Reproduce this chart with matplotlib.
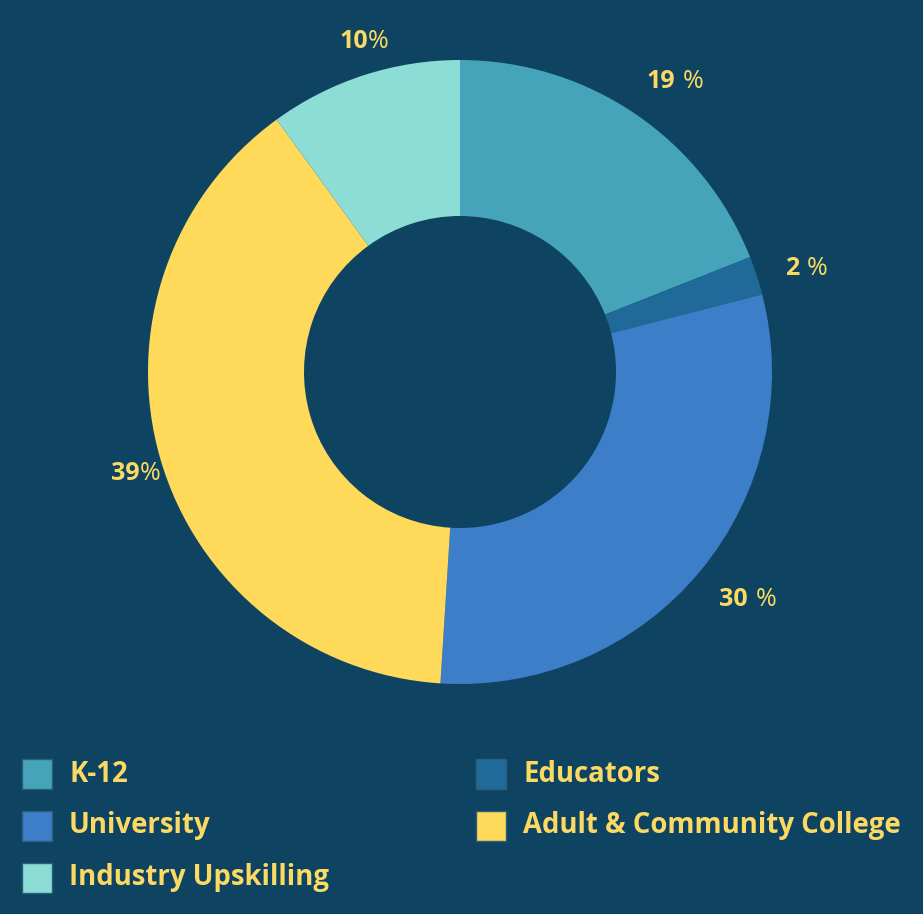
import numpy as np
import matplotlib.pyplot as plt
from matplotlib.patches import Rectangle

categories = ["K-12", "Educators", "University", "Adult & Community College", "Industry Upskilling"]
shares = [19, 2, 30, 39, 10]
label_text = ["19 %", "2 %", "30 %", "39%", "10%"]
colors = ["#45a4ba", "#1f6a98", "#3d7ec8", "#ffd95a", "#8cddd5"]

BG = "#0e4461"
TXT = "#fcd963"
FONT = "Open Sans"

W, H = 923, 914
cx, cy, R = 460, 372, 312   # pixels from top-left

fig = plt.figure(figsize=(W / 100, H / 100), dpi=100, facecolor=BG)
ax = fig.add_axes([0, 0, 1, 1])
ax.set_facecolor(BG)

wedges, _ = ax.pie(shares, colors=colors, startangle=90, counterclock=False,
                   radius=1.0, wedgeprops=dict(width=0.5, linewidth=0))

ax.set_xlim(-cx / R, (W - cx) / R)
ax.set_ylim(-(H - cy) / R, cy / R)
ax.set_aspect("auto")
ax.axis("off")

# percentage labels: bold number, light percent sign
label_r = [1.175, 1.15, 1.18, 1.075, 1.11]
label_nudge = [-2.5, -0.7, 2.0, 0.8, -2.6]   # degrees
for w, txt, r, dn in zip(wedges, label_text, label_r, label_nudge):
    ang = np.deg2rad((w.theta1 + w.theta2) / 2 + dn)
    x, y = r * np.cos(ang), r * np.sin(ang)
    num = txt.rstrip("%").rstrip()
    gap = 0.012 if txt[len(num):-1] else 0.0
    ax.text(x - gap, y, num, color=TXT, fontsize=18, fontweight="bold", family=FONT,
            ha="right", va="center_baseline")
    ax.text(x + gap, y, "%", color=TXT, fontsize=18, family=FONT,
            ha="left", va="center_baseline")

# legend, laid out row-wise in two columns
sq = 30
col_x = [22, 476]
row_y = [774, 826, 878]
for i, (name, c) in enumerate(zip(categories, colors)):
    col, row = i % 2, i // 2
    x0, yc = col_x[col], row_y[row]
    fig.add_artist(Rectangle((x0 / W, 1 - (yc + sq / 2) / H), sq / W, sq / H,
                             transform=fig.transFigure, facecolor=c,
                             edgecolor="#2a5f7a", linewidth=1))
    fig.text((x0 + 47) / W, 1 - yc / H, name, color=TXT, fontsize=19.8,
             fontweight="bold", family=FONT, ha="left", va="center")

fig.savefig("out.png", dpi=100, facecolor=BG)
